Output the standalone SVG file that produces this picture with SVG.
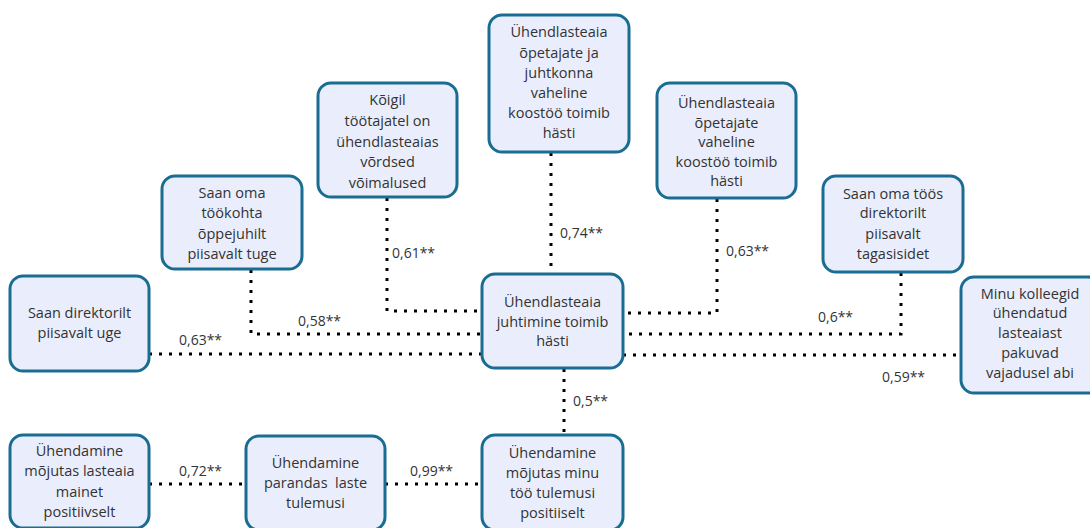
<svg xmlns="http://www.w3.org/2000/svg" width="1090" height="528" viewBox="0 0 1090 528">
  <style>
    .box { fill: #EAEEFC; stroke: #1A6D92; stroke-width: 3; }
    .lbl { font-family: "Open Sans", "Noto Sans", sans-serif; font-size: 14.5px; fill: #333333; text-anchor: middle; white-space: pre; }
    .val { font-family: "Open Sans", "Noto Sans", sans-serif; font-size: 14px; fill: #333333; }
    .link { fill: none; stroke: #000000; stroke-width: 3; stroke-dasharray: 3 7; }
  </style>
  <rect width="1090" height="528" fill="#FFFFFF"/>

  <!-- dotted correlation links -->
  <g id="connectors">
    <path class="link" d="M149 354 H482"/>
    <path class="link" d="M251 270 V334 H482"/>
    <path class="link" d="M387 198 V311 H482"/>
    <path class="link" d="M551 153 V274"/>
    <path class="link" d="M717 199 V313 H623"/>
    <path class="link" d="M901 273 V334 H623"/>
    <path class="link" d="M623 355 H961"/>
    <path class="link" d="M564 369 V435"/>
    <path class="link" d="M149 484 H246"/>
    <path class="link" d="M385 484 H482"/>
    <text class="val" x="179" y="345">0,63**</text>
    <text class="val" x="298" y="326">0,58**</text>
    <text class="val" x="392" y="258">0,61**</text>
    <text class="val" x="560" y="238">0,74**</text>
    <text class="val" x="726" y="256">0,63**</text>
    <text class="val" x="818" y="322">0,6**</text>
    <text class="val" x="882" y="382">0,59**</text>
    <text class="val" x="573" y="406">0,5**</text>
    <text class="val" x="179" y="476">0,72**</text>
    <text class="val" x="410" y="476">0,99**</text>
  </g>

  <g id="n-direktor-tugi">
    <rect class="box" x="10" y="276" width="139" height="95" rx="13"/>
    <text class="lbl" x="79.5" y="318">Saan direktorilt</text>
    <text class="lbl" x="79.5" y="338">piisavalt uge</text>
  </g>

  <g id="n-oppejuht">
    <rect class="box" x="162" y="176" width="140" height="93" rx="13"/>
    <text class="lbl" x="232" y="198">Saan oma</text>
    <text class="lbl" x="232" y="218">töökohta</text>
    <text class="lbl" x="232" y="239">õppejuhilt</text>
    <text class="lbl" x="232" y="259">piisavalt tuge</text>
  </g>

  <g id="n-vordsed">
    <rect class="box" x="318" y="83" width="139" height="114" rx="13"/>
    <text class="lbl" x="387.5" y="105">Kõigil</text>
    <text class="lbl" x="387.5" y="126">töötajatel on</text>
    <text class="lbl" x="387.5" y="147">ühendlasteaias</text>
    <text class="lbl" x="387.5" y="167">võrdsed</text>
    <text class="lbl" x="387.5" y="188">võimalused</text>
  </g>

  <g id="n-juhtkond">
    <rect class="box" x="489" y="15" width="140" height="137" rx="13"/>
    <text class="lbl" x="559" y="37">Ühendlasteaia</text>
    <text class="lbl" x="559" y="58">õpetajate ja</text>
    <text class="lbl" x="559" y="78">juhtkonna</text>
    <text class="lbl" x="559" y="98">vaheline</text>
    <text class="lbl" x="559" y="118">koostöö toimib</text>
    <text class="lbl" x="559" y="138">hästi</text>
  </g>

  <g id="n-opetajad">
    <rect class="box" x="657" y="83" width="139" height="115" rx="13"/>
    <text class="lbl" x="726.5" y="108">Ühendlasteaia</text>
    <text class="lbl" x="726.5" y="128">õpetajate</text>
    <text class="lbl" x="726.5" y="147">vaheline</text>
    <text class="lbl" x="726.5" y="167">koostöö toimib</text>
    <text class="lbl" x="726.5" y="186">hästi</text>
  </g>

  <g id="n-tagasiside">
    <rect class="box" x="823" y="176" width="140" height="96" rx="13"/>
    <text class="lbl" x="893" y="199">Saan oma töös</text>
    <text class="lbl" x="893" y="218">direktorilt</text>
    <text class="lbl" x="893" y="239">piisavalt</text>
    <text class="lbl" x="893" y="259">tagasisidet</text>
  </g>

  <g id="n-juhtimine">
    <rect class="box" x="482" y="274" width="141" height="94" rx="13"/>
    <text class="lbl" x="552.5" y="307">Ühendlasteaia</text>
    <text class="lbl" x="552.5" y="327">juhtimine toimib</text>
    <text class="lbl" x="552.5" y="346">hästi</text>
  </g>

  <g id="n-kolleegid">
    <rect class="box" x="961" y="277" width="140" height="116" rx="13"/>
    <text class="lbl" x="1030" y="299">Minu kolleegid</text>
    <text class="lbl" x="1030" y="318">ühendatud</text>
    <text class="lbl" x="1030" y="338">lasteaiast</text>
    <text class="lbl" x="1030" y="358">pakuvad</text>
    <text class="lbl" x="1030" y="378">vajadusel abi</text>
  </g>

  <g id="n-maine">
    <rect class="box" x="10" y="435" width="139" height="93" rx="13"/>
    <text class="lbl" x="79.5" y="456">Ühendamine</text>
    <text class="lbl" x="79.5" y="476">mõjutas lasteaia</text>
    <text class="lbl" x="79.5" y="497">mainet</text>
    <text class="lbl" x="79.5" y="517">positiivselt</text>
  </g>

  <g id="n-laste-tulemused">
    <rect class="box" x="246" y="436" width="139" height="94" rx="13"/>
    <text class="lbl" x="315.5" y="468">Ühendamine</text>
    <text class="lbl" x="315.5" y="488">parandas  laste</text>
    <text class="lbl" x="315.5" y="508">tulemusi</text>
  </g>

  <g id="n-too-tulemused">
    <rect class="box" x="482" y="435" width="141" height="95" rx="13"/>
    <text class="lbl" x="552.5" y="458">Ühendamine</text>
    <text class="lbl" x="552.5" y="478">mõjutas minu</text>
    <text class="lbl" x="552.5" y="498">töö tulemusi</text>
    <text class="lbl" x="552.5" y="518">positiiselt</text>
  </g>
</svg>
